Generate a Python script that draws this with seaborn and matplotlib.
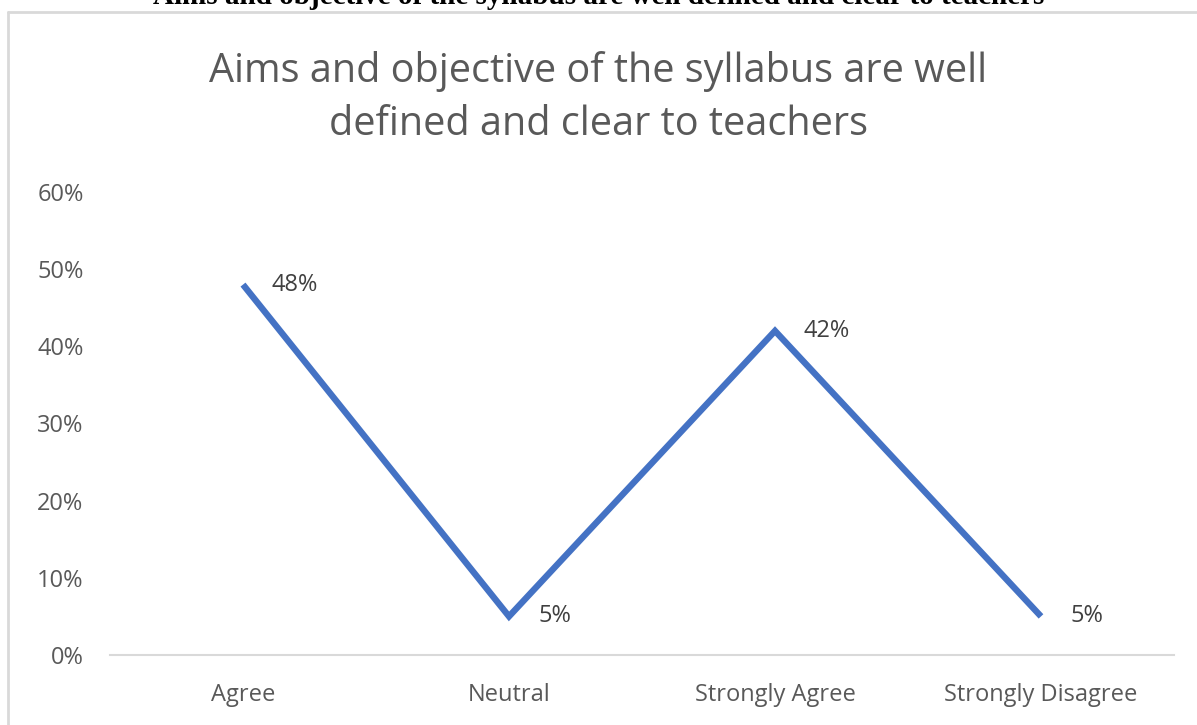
import numpy as np
import pandas as pd
import matplotlib.pyplot as plt
import matplotlib.ticker as mtick
from matplotlib.lines import Line2D
import seaborn as sns

categories = ['Agree', 'Neutral', 'Strongly Agree', 'Strongly Disagree']
values = [0.48, 0.05, 0.42, 0.05]
labels = ['48%', '5%', '42%', '5%']

df = pd.DataFrame({'response': categories, 'share': values})

sns.set_style('white')
plt.rcParams['font.family'] = ['Open Sans', 'DejaVu Sans']

W, H = 1197, 725
fig = plt.figure(figsize=(W / 100, H / 100), dpi=100)
ax = fig.add_axes([110 / W, 1 - 655 / H, (1174 - 110) / W, (655 - 192) / H])

x = np.arange(len(categories))
sns.lineplot(x=x, y=df['share'], ax=ax, color='#4472C4', linewidth=4.6,
             solid_capstyle='butt', solid_joinstyle='miter')

for xi, v, lab in zip(x, values, labels):
    ax.annotate(lab, (xi, v), xytext=(29, 0), textcoords='offset pixels',
                ha='left', va='center', fontsize=17, color='#404040')

ax.set_xlim(-0.5, len(categories) - 0.5)
ax.set_ylim(0, 0.6)
ax.set_xticks(x)
ax.set_xticklabels(categories, fontsize=17, color='#595959')
ax.set_yticks(np.arange(0, 0.61, 0.1))
ax.yaxis.set_major_formatter(mtick.PercentFormatter(1.0, decimals=0))
ax.tick_params(axis='y', labelsize=17, labelcolor='#595959', length=0, pad=19)
ax.tick_params(axis='x', length=0, pad=20)
ax.set_xlabel('')
ax.set_ylabel('')
for s in ['top', 'right', 'left']:
    ax.spines[s].set_visible(False)
ax.spines['bottom'].set_color('#d9d9d9')
ax.spines['bottom'].set_linewidth(1.5)

fig.text(0.5, 1 - 98 / H, 'Aims and objective of the syllabus are well\ndefined and clear to teachers',
         ha='center', va='center', fontsize=28.5, color='#595959', linespacing=1.4)

# cut-off caption above the chart frame
fig.text(0.5, 1 - 4 / H, 'Aims and objective of the syllabus are well defined and clear to teachers',
         ha='center', va='baseline', fontsize=21, fontweight='bold',
         family=['Liberation Serif', 'DejaVu Serif'], color='black')

# chart frame
frame_kw = dict(color='#d9d9d9', linewidth=2, transform=fig.transFigure)
fig.add_artist(Line2D([8 / W, 8 / W], [0, 1 - 12 / H], **frame_kw))
fig.add_artist(Line2D([8 / W, 1], [1 - 12 / H, 1 - 12 / H], **frame_kw))

fig.savefig('out.png', dpi=100)
